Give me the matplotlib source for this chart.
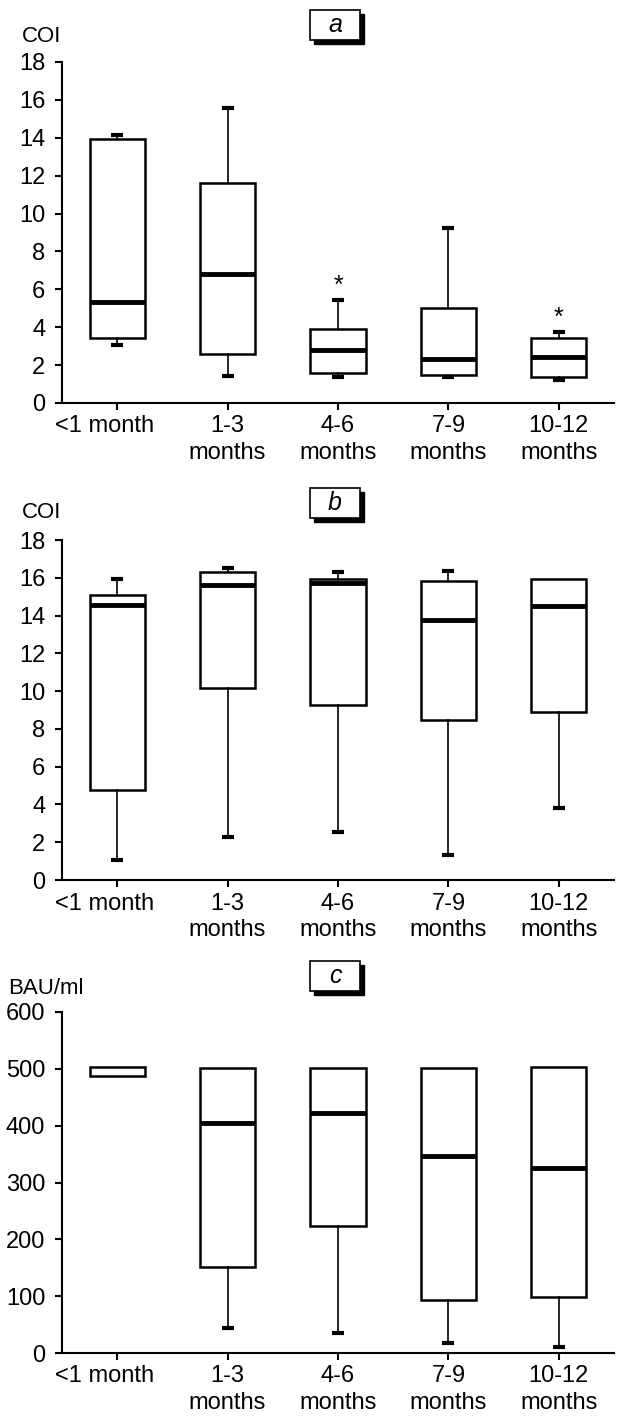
import matplotlib.pyplot as plt
from matplotlib.patches import Rectangle
from matplotlib.transforms import ScaledTranslation

plt.rcParams['font.family'] = ['Liberation Sans', 'DejaVu Sans']
plt.rcParams['font.size'] = 16

# Kategorien (x-Achse)
groups = ['<1 month', '1-3\nmonths', '4-6\nmonths', '7-9\nmonths', '10-12\nmonths']

# Panel a (COI)
a_whislo = [3.08, 1.44, 1.35, 1.35, 1.20]
a_q1 = [3.43, 2.60, 1.57, 1.50, 1.37]
a_med = [5.33, 6.81, 2.81, 2.34, 2.43]
a_q3 = [13.93, 11.59, 3.89, 5.01, 3.43]
a_whishi = [14.14, 15.57, 5.45, 9.22, 3.76]
a_stars = [2, 4]
a_star_y = [6.2, 4.5]

# Panel b (COI)
b_whislo = [1.06, 2.29, 2.56, 1.32, 3.79]
b_q1 = [4.75, 10.19, 9.27, 8.45, 8.91]
b_med = [14.56, 15.60, 15.73, 13.77, 14.51]
b_q3 = [15.09, 16.31, 15.96, 15.85, 15.96]
b_whishi = [15.94, 16.50, 16.33, 16.36, 15.96]

# Panel c (BAU/ml)
c_whislo = [487, 44, 35, 18, 11]
c_q1 = [487, 151, 223, 94, 98]
c_med = [503, 405, 422, 346, 326]
c_q3 = [503, 501, 502, 501, 503]
c_whishi = [503, 501, 502, 501, 503]

panels = [
    ('a', 'COI', a_whislo, a_q1, a_med, a_q3, a_whishi, 18, 2),
    ('b', 'COI', b_whislo, b_q1, b_med, b_q3, b_whishi, 18, 2),
    ('c', 'BAU/ml', c_whislo, c_q1, c_med, c_q3, c_whishi, 600, 100),
]

W, H = 625, 1416
fig = plt.figure(figsize=(W / 100, H / 100), dpi=100)

# Pixelpositionen der Achsen (oben, unten), Labels und Buchstabenkästen
ax_pix = [(62, 403), (540, 880), (1012, 1353)]
ylab_pix = [37, 513, 988]
box_pix = [10, 488, 961]
left, right = 62, 614

for i, (letter, ylab, wlo, q1, med, q3, whi, ymax, step) in enumerate(panels):
    top, bot = ax_pix[i]
    ax = fig.add_axes([left / W, 1 - bot / H, (right - left) / W, (bot - top) / H])

    stats = []
    for k in range(len(groups)):
        stats.append(dict(whislo=wlo[k], q1=q1[k], med=med[k], q3=q3[k], whishi=whi[k], fliers=[]))

    res = ax.bxp(stats, positions=range(len(groups)), widths=0.5, capwidths=0.11,
                 showfliers=False, patch_artist=True,
                 boxprops=dict(facecolor='white', edgecolor='black', linewidth=1.8),
                 medianprops=dict(color='black', linewidth=3.5, solid_capstyle='butt'),
                 whiskerprops=dict(color='black', linewidth=1.2),
                 capprops=dict(color='black', linewidth=3, solid_capstyle='butt'))

    # Whisker/Kappen ausblenden, wenn sie mit der Box zusammenfallen
    for k in range(len(groups)):
        if wlo[k] >= q1[k]:
            res['caps'][2 * k].set_visible(False)
        if whi[k] <= q3[k]:
            res['caps'][2 * k + 1].set_visible(False)
        if med[k] >= q3[k]:
            res['medians'][k].set_visible(False)

    if letter == 'a':
        for x, y in zip(a_stars, a_star_y):
            ax.text(x, y, '*', ha='center', va='center', fontsize=18)

    ax.set_xlim(-0.5, 4.5)
    ax.set_ylim(0, ymax)
    ax.set_yticks(range(0, ymax + 1, step))
    ax.set_xticks(range(len(groups)))
    ax.set_xticklabels(groups, linespacing=1.25)
    for s in ['top', 'right']:
        ax.spines[s].set_visible(False)
    for s in ['left', 'bottom']:
        ax.spines[s].set_linewidth(1.5)
    ax.tick_params(direction='out', length=5, width=1.5, labelsize=17)
    ax.tick_params(axis='y', pad=7)
    ax.tick_params(axis='x', pad=4)

    # "<1 month" steht im Original etwas links vom Tick
    lab0 = ax.get_xticklabels()[0]
    lab0.set_transform(lab0.get_transform() + ScaledTranslation(-0.13, 0, fig.dpi_scale_trans))

    fig.text((22 if ylab == 'COI' else 8) / W, 1 - ylab_pix[i] / H, ylab,
             ha='left', va='center', fontsize=16)

    # Buchstabe im Kasten mit Schatten
    bx, by, bw, bh = 310, box_pix[i], 50, 30
    fig.add_artist(Rectangle(((bx + 4) / W, 1 - (by + bh + 4) / H), bw / W, bh / H,
                             transform=fig.transFigure, facecolor='black', edgecolor='black'))
    fig.add_artist(Rectangle((bx / W, 1 - (by + bh) / H), bw / W, bh / H,
                             transform=fig.transFigure, facecolor='white', edgecolor='black', linewidth=1.2))
    fig.text((bx + bw / 2) / W, 1 - (by + bh / 2) / H, letter, ha='center', va='center',
             fontsize=18, style='italic')

fig.savefig('out.png', dpi=100)
plt.close(fig)
